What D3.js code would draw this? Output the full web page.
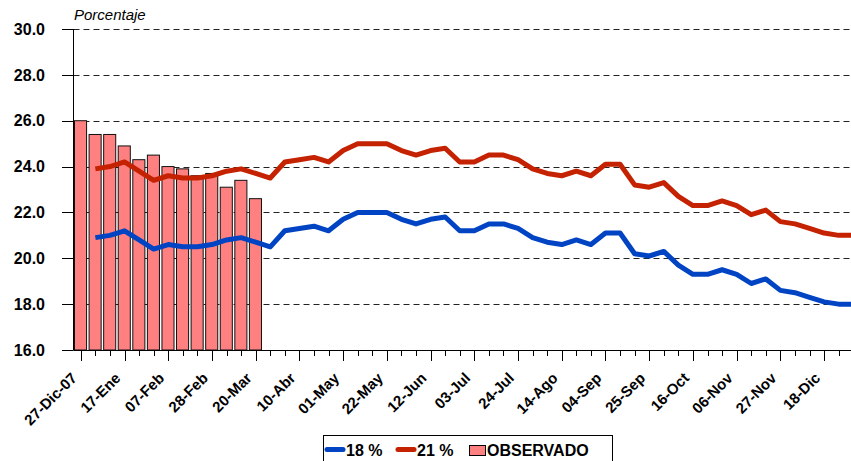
<!DOCTYPE html>
<html>
<head>
<meta charset="utf-8">
<script src="https://cdn.jsdelivr.net/npm/d3@7"></script>
<style>
  body { margin: 0; background: #fff; }
  svg { display: block; font-family: Arial, 'Liberation Sans', sans-serif; }
</style>
</head>
<body>
<figure id="chart" style="margin:0"></figure>
<script>
// weekly categories
const weeks = ['27-Dic-07', '03-Ene', '10-Ene', '17-Ene', '24-Ene', '31-Ene', '07-Feb', '14-Feb', '21-Feb',
  '28-Feb', '06-Mar', '13-Mar', '20-Mar', '27-Mar', '03-Abr', '10-Abr', '17-Abr', '24-Abr', '01-May',
  '08-May', '15-May', '22-May', '29-May', '05-Jun', '12-Jun', '19-Jun', '26-Jun', '03-Jul', '10-Jul',
  '17-Jul', '24-Jul', '31-Jul', '07-Ago', '14-Ago', '21-Ago', '28-Ago', '04-Sep', '11-Sep', '18-Sep',
  '25-Sep', '02-Oct', '09-Oct', '16-Oct', '23-Oct', '30-Oct', '06-Nov', '13-Nov', '20-Nov', '27-Nov',
  '04-Dic', '11-Dic', '18-Dic', '25-Dic', '01-Ene-09'];

const observado = [26.0, 25.4, 25.4, 24.9, 24.3, 24.5, 24.0, 23.9, 23.6, 23.7, 23.1, 23.4, 22.6];

const serie18 = [null, 20.9, 21.0, 21.2, 20.8, 20.4, 20.6, 20.5, 20.5, 20.6, 20.8, 20.9, 20.7, 20.5,
  21.2, 21.3, 21.4, 21.2, 21.7, 22.0, 22.0, 22.0, 21.7, 21.5, 21.7, 21.8, 21.2, 21.2, 21.5, 21.5,
  21.3, 20.9, 20.7, 20.6, 20.8, 20.6, 21.1, 21.1, 20.2, 20.1, 20.3, 19.7, 19.3, 19.3, 19.5, 19.3,
  18.9, 19.1, 18.6, 18.5, 18.3, 18.1, 18.0, 18.0];

const serie21 = [null, 23.9, 24.0, 24.2, 23.8, 23.4, 23.6, 23.5, 23.5, 23.6, 23.8, 23.9, 23.7, 23.5,
  24.2, 24.3, 24.4, 24.2, 24.7, 25.0, 25.0, 25.0, 24.7, 24.5, 24.7, 24.8, 24.2, 24.2, 24.5, 24.5,
  24.3, 23.9, 23.7, 23.6, 23.8, 23.6, 24.1, 24.1, 23.2, 23.1, 23.3, 22.7, 22.3, 22.3, 22.5, 22.3,
  21.9, 22.1, 21.6, 21.5, 21.3, 21.1, 21.0, 21.0];

const yTicks = [16, 18, 20, 22, 24, 26, 28, 30];

const width = 851;
const height = 461;
const plotLeft = 73.5;
const plotTop = 29;
const plotBottom = 350;

const svg = d3.select('figure#chart').append('svg')
  .attr('width', width)
  .attr('height', height);

const x = d3.scaleBand()
  .domain(weeks)
  .range([plotLeft, plotLeft + weeks.length * 14.575])
  .padding(0);

const y = d3.scaleLinear()
  .domain([16, 30])
  .range([plotBottom, plotTop]);

const cx = (i) => x(weeks[i]) + x.bandwidth() / 2;

// dashed grid
svg.append('g')
  .selectAll('line')
  .data(yTicks.slice(1))
  .enter().append('line')
  .attr('x1', plotLeft)
  .attr('x2', width)
  .attr('y1', d => Math.round(y(d)) + 0.5)
  .attr('y2', d => Math.round(y(d)) + 0.5)
  .attr('stroke', '#222')
  .attr('stroke-width', 1)
  .attr('stroke-dasharray', '6,4');

// observed bars
svg.append('g')
  .selectAll('rect')
  .data(observado)
  .enter().append('rect')
  .attr('x', (d, i) => x(weeks[i]) + 1)
  .attr('width', x.bandwidth() - 2.5)
  .attr('y', d => y(d))
  .attr('height', d => y(16) - y(d))
  .attr('fill', '#ff8080')
  .attr('stroke', '#111')
  .attr('stroke-width', 1);

// projection lines
const line = d3.line()
  .defined(d => d !== null)
  .x((d, i) => cx(i))
  .y(d => y(d));

svg.append('path')
  .datum(serie21)
  .attr('d', line)
  .attr('fill', 'none')
  .attr('stroke', '#c42200')
  .attr('stroke-width', 5)
  .attr('stroke-linejoin', 'round');

svg.append('path')
  .datum(serie18)
  .attr('d', line)
  .attr('fill', 'none')
  .attr('stroke', '#0044c4')
  .attr('stroke-width', 5)
  .attr('stroke-linejoin', 'round');

// y axis
const yAxis = svg.append('g');
yAxis.append('line')
  .attr('x1', plotLeft).attr('x2', plotLeft)
  .attr('y1', plotTop).attr('y2', plotBottom)
  .attr('stroke', '#000');
yAxis.selectAll('line.tick')
  .data(yTicks)
  .enter().append('line')
  .attr('class', 'tick')
  .attr('x1', 62).attr('x2', plotLeft)
  .attr('y1', d => Math.round(y(d)) + 0.5)
  .attr('y2', d => Math.round(y(d)) + 0.5)
  .attr('stroke', '#000');
yAxis.selectAll('text')
  .data(yTicks)
  .enter().append('text')
  .attr('x', 45)
  .attr('y', d => y(d))
  .attr('dy', '0.36em')
  .attr('text-anchor', 'end')
  .attr('font-size', 16)
  .attr('font-weight', 'bold')
  .text(d => d.toFixed(1));

svg.append('text')
  .attr('x', 74)
  .attr('y', 20)
  .attr('font-size', 15)
  .attr('font-style', 'italic')
  .text('Porcentaje');

// x axis
const xAxis = svg.append('g');
xAxis.append('line')
  .attr('x1', plotLeft).attr('x2', width)
  .attr('y1', plotBottom + 0.5).attr('y2', plotBottom + 0.5)
  .attr('stroke', '#000');
xAxis.selectAll('line.tick')
  .data(weeks)
  .enter().append('line')
  .attr('class', 'tick')
  .attr('x1', (d, i) => Math.round(cx(i)) + 0.5)
  .attr('x2', (d, i) => Math.round(cx(i)) + 0.5)
  .attr('y1', plotBottom)
  .attr('y2', (d, i) => i % 3 === 0 ? plotBottom + 11 : plotBottom + 6)
  .attr('stroke', '#000');
xAxis.selectAll('text')
  .data(weeks.filter((d, i) => i % 3 === 0 && i < 52))
  .enter().append('text')
  .attr('transform', d => 'translate(' + (cx(weeks.indexOf(d)) - 3) + ',' + 379 + ') rotate(-45)')
  .attr('text-anchor', 'end')
  .attr('font-size', 15)
  .attr('font-weight', 'bold')
  .text(d => d);

// legend
const legend = svg.append('g');
legend.append('rect')
  .attr('x', 323.5).attr('y', 435.5)
  .attr('width', 289).attr('height', 32)
  .attr('fill', '#fff')
  .attr('stroke', '#000');

const items = [
  { label: '18 %', color: '#0044c4', x0: 325 },
  { label: '21 %', color: '#c42200', x0: 396 }
];
items.forEach(it => {
  legend.append('line')
    .attr('x1', it.x0 + 2).attr('x2', it.x0 + 18)
    .attr('y1', 449.5).attr('y2', 449.5)
    .attr('stroke', it.color)
    .attr('stroke-width', 5)
    .attr('stroke-linecap', 'round');
  legend.append('text')
    .attr('x', it.x0 + 21)
    .attr('y', 456)
    .attr('font-size', 16)
    .attr('font-weight', 'bold')
    .text(it.label);
});
legend.append('rect')
  .attr('x', 469.5).attr('y', 445.5)
  .attr('width', 16).attr('height', 10)
  .attr('fill', '#ff8080')
  .attr('stroke', '#000');
legend.append('text')
  .attr('x', 487)
  .attr('y', 456)
  .attr('font-size', 16)
  .attr('font-weight', 'bold')
  .text('OBSERVADO');
</script>
</body>
</html>
